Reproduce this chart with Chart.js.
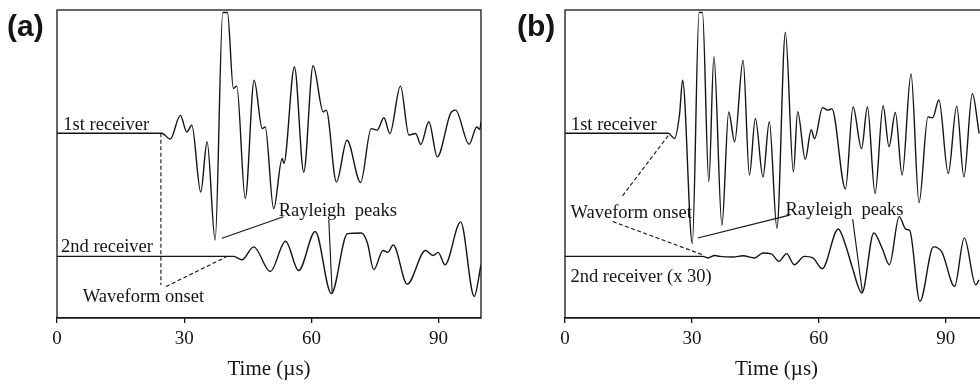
<!DOCTYPE html>
<html>
<head>
<meta charset="utf-8">
<script src="https://cdn.jsdelivr.net/npm/chart.js@4"></script>
<style>
  html, body { margin: 0; padding: 0; background: #fff; overflow: hidden; }
  #wrap { position: relative; width: 980px; height: 385px; overflow: hidden; }
  canvas { position: absolute; top: 0; }
  #cA { left: 0; }
  #cB { left: 500px; }
</style>
</head>
<body>
<div id="wrap">
  <canvas id="cA" width="500" height="385"></canvas>
  <canvas id="cB" width="510" height="385"></canvas>
</div>
<script>
// ----- Data (time in µs, amplitude relative to each trace's baseline) -----
const X_TICKS = [0, 30, 60, 90];
const BASE_1ST = 60;
const BASE_2ND = 20;

// panel (a)
const tA1 = [0, 24.7, 26.7, 29.1, 30.6, 31.8, 33.9, 35.4, 37.3, 39.1, 40.2, 41.6, 42.4, 44.4, 46.5,
  48.4, 49.1, 51.1, 53.1, 53.5, 56.0, 58.2, 60.4, 62.8, 63.5, 65.9, 68.4, 71.6, 74.1, 75.5,
  77.1, 78.5, 81.0, 83.0, 84.6, 85.8, 87.7, 89.7, 92.8, 94.0, 97.2, 99.0, 99.7, 100];
const aA1 = [0, 0, -1.9, 5.8, 0.4, 2.6, -19.1, -2.8, -34.7, 39.2, 39.2, 14.5, 15.3, -21.2, 17.2,
  1.5, 2.0, -24.5, -8.2, -9.8, 21.5, -12.6, 21.9, 6.9, 7.5, -15.8, -2.3, -16.0, 1.5, 1.0,
  5.0, -0.1, 15.3, -0.6, -0.1, -3.7, 3.7, -7.7, 6.4, 7.5, -3.6, 2.0, 1.2, 3.7];
const tA2 = [0, 41.7, 43.6, 46.4, 50.3, 53.9, 57.0, 60.9, 64.7, 68.5, 71.8, 73.2, 74.7, 76.9, 78.0,
  79.3, 82.6, 86.9, 88.7, 89.9, 91.5, 95.2, 98.4, 100];
const aA2 = [0, 0, -1.1, 3.1, -4.9, 4.9, -4.6, 8.1, -12.1, 7.4, 7.6, 4.4, -4.3, 1.9, 1.3,
  3.7, -9.0, 1.9, 0.3, 1.3, -2.7, 11.2, -13.0, -2.7];

// panel (b), 2nd receiver amplified x 30
const tB1 = [0, 24.4, 25.9, 27.1, 27.8, 30.1, 31.7, 32.5, 34.0, 35.2, 37.1, 38.7, 40.1, 42.1, 43.6,
  45.0, 46.8, 48.3, 50.1, 52.1, 54.0, 55.0, 56.8, 58.2, 59.0, 60.9, 62.1, 63.1, 66.3, 68.1,
  70.1, 71.5, 73.3, 75.2, 76.6, 78.1, 79.7, 81.8, 83.7, 85.8, 86.9, 88.4, 90.6, 92.6, 94.3,
  96.3, 97.9];
const aB1 = [0, 0, -1.7, 6.4, 17.2, -35.8, 39.2, 39.2, -15.8, 24.8, -29.9, 6.9, -2.8, 23.7, -13.6,
  4.8, -14.2, 3.7, -30.9, 32.7, -12.6, 7.0, -8.5, 1.1, -1.8, 8.3, 7.5, 7.9, -18.1, 8.5,
  -5.0, 8.5, -19.6, 8.9, -4.4, 6.7, -13.6, 19.2, -22.5, 5.3, 5.0, 10.8, -13.1, 8.8, -14.2,
  12.9, -0.1];
const tB2 = [0, 32.6, 33.8, 35.4, 36.6, 39.7, 42.1, 44.8, 46.8, 48.8, 50.6, 52.4, 54.2, 56.6, 58.6,
  60.8, 64.6, 66.3, 67.9, 70.2, 73.0, 74.9, 76.7, 79.0, 80.6, 81.5, 83.9, 87.1, 89.1, 92.1,
  94.4, 97.1, 97.9];
const aB2 = [0, 0, -0.5, 0.3, 0, -0.2, 0.2, -0.5, 1.1, 0.8, -1.6, 0.9, -2.7, 0, -0.5,
  -4.0, 8.9, 3.8, -3.5, -11.9, 7.6, 2.9, -2.7, 12.9, 8.8, 8.4, -14.6, 3.1, 1.4, -9.7,
  6.0, -9.2, -7.6];

// annotation texts and leader lines, in axis units
const notesA = {
  texts: [
    ["1st receiver", 1.5, 60.9],
    ["2nd receiver", 0.95, 21.3],
    ["Waveform onset", 6.1, 5.3],
    ["Rayleigh  peaks", 52.3, 33.2]
  ],
  lines: [
    [[24.5, 60], [24.5, 10.7], true],
    [[25.7, 10.2], [40.1, 20], true],
    [[38.9, 25.9], [53.4, 32.9], false],
    [[64.1, 31.8], [64.9, 8.1], false]
  ]
};
const notesB = {
  texts: [
    ["1st receiver", 1.4, 61.0],
    ["Waveform onset", 1.3, 32.4],
    ["2nd receiver (x 30)", 1.3, 11.8],
    ["Rayleigh  peaks", 52.1, 33.4]
  ],
  lines: [
    [[24.4, 59.2], [13.4, 39.3], true],
    [[11.3, 31.3], [32.6, 20.5], true],
    [[31.4, 26.0], [53.1, 33.4], false],
    [[68.0, 32.1], [70.3, 8.4], false]
  ]
};

// ----- Styles -----
const INK = "#141414";
const SERIF = "'Liberation Serif', 'Times New Roman', serif";

// ----- Plugins -----
const framePlugin = {
  id: "frame",
  afterDraw(chart) {
    const { ctx, chartArea: a } = chart;
    ctx.save();
    ctx.strokeStyle = INK;
    ctx.lineWidth = 1.3;
    ctx.strokeRect(a.left, a.top, a.right - a.left, a.bottom - a.top);
    ctx.restore();
  }
};

function notesPlugin(notes, label, labelX) {
  return {
    id: "notes",
    afterDatasetsDraw(chart) {
      const { ctx, scales: { x, y } } = chart;
      ctx.save();
      ctx.strokeStyle = INK;
      ctx.lineWidth = 1.1;
      notes.lines.forEach(([p0, p1, dashed]) => {
        ctx.setLineDash(dashed ? [4, 2.5] : []);
        ctx.beginPath();
        ctx.moveTo(x.getPixelForValue(p0[0]), y.getPixelForValue(p0[1]));
        ctx.lineTo(x.getPixelForValue(p1[0]), y.getPixelForValue(p1[1]));
        ctx.stroke();
      });
      ctx.setLineDash([]);
      ctx.fillStyle = INK;
      ctx.font = "18.5px " + SERIF;
      ctx.textBaseline = "alphabetic";
      ctx.textAlign = "left";
      notes.texts.forEach(([txt, t, v]) => {
        ctx.fillText(txt, x.getPixelForValue(t), y.getPixelForValue(v));
      });
      ctx.font = "bold 30px 'Liberation Sans', Arial, sans-serif";
      ctx.fillText(label, labelX, 36);
      ctx.restore();
    }
  };
}

// ----- Charts -----
function makeChart(canvas, traces, notes, label, labelX, padLeft, padRight) {
  return new Chart(canvas, {
    type: "line",
    data: {
      datasets: traces.map(tr => ({
        data: tr.t.map((t, i) => ({ x: t, y: tr.base + tr.a[i] })),
        borderColor: INK,
        borderWidth: 1.4,
        pointRadius: 0,
        fill: false,
        cubicInterpolationMode: "monotone"
      }))
    },
    options: {
      responsive: false,
      animation: false,
      devicePixelRatio: 1,
      layout: { padding: { left: padLeft, right: padRight, top: 10, bottom: 0 } },
      plugins: { legend: { display: false }, tooltip: { enabled: false } },
      scales: {
        x: {
          type: "linear",
          min: 0,
          max: 100,
          afterBuildTicks: s => { s.ticks = X_TICKS.map(v => ({ value: v })); },
          afterFit: s => { s.height = 67; },
          grid: { drawOnChartArea: false, drawTicks: true, tickLength: 5, color: INK, lineWidth: 1.3 },
          border: { display: true, color: INK, width: 1.3 },
          ticks: { color: INK, padding: 5, font: { family: SERIF, size: 19 } },
          title: { display: true, text: "Time (µs)", color: INK, font: { family: SERIF, size: 21 }, padding: { top: 0, bottom: 3 } }
        },
        y: { min: 0, max: 100, display: false }
      }
    },
    plugins: [framePlugin, notesPlugin(notes, label, labelX)]
  });
}

makeChart(document.getElementById("cA"),
  [{ t: tA1, a: aA1, base: BASE_1ST }, { t: tA2, a: aA2, base: BASE_2ND }],
  notesA, "(a)", 7, 57, 19);

makeChart(document.getElementById("cB"),
  [{ t: tB1, a: aB1, base: BASE_1ST }, { t: tB2, a: aB2, base: BASE_2ND }],
  notesB, "(b)", 17, 65, 22);
</script>
</body>
</html>
